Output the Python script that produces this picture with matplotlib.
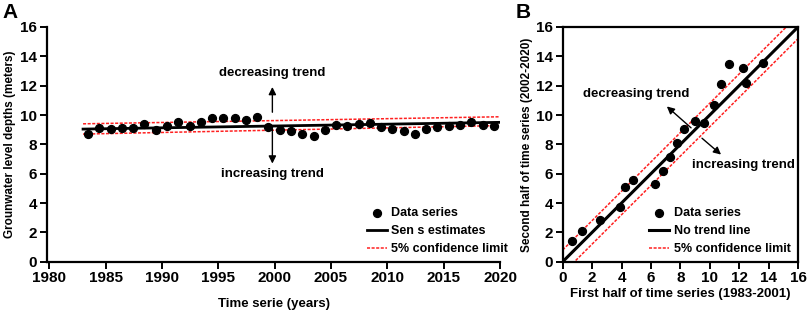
import numpy as np
import matplotlib
matplotlib.use("Agg")
import matplotlib.pyplot as plt

plt.rcParams['font.family'] = ['Liberation Sans', 'DejaVu Sans']
plt.rcParams['font.weight'] = 'bold'

# ---- Panel A data ----
years = np.arange(1983, 2020)
depths = [8.72, 9.09, 9.04, 9.09, 9.09, 9.41, 9.00, 9.27, 9.50, 9.27,
          9.54, 9.77, 9.77, 9.77, 9.64, 9.86, 9.20, 9.00, 8.88, 8.73,
          8.59, 8.95, 9.30, 9.25, 9.39, 9.45, 9.16, 9.08, 8.88, 8.73,
          9.05, 9.16, 9.25, 9.34, 9.53, 9.34, 9.23]
trend_years = [1983, 2020]
sen_est = [9.04, 9.50]
conf_upper = [9.40, 9.88]
conf_lower = [8.70, 9.28]

# ---- Panel B data ----
first_half = [0.63, 1.31, 2.52, 3.88, 4.27, 4.79, 6.31, 6.79, 7.28, 7.78,
              8.28, 8.99, 9.60, 10.30, 10.78, 11.28, 12.27, 12.46, 13.59]
second_half = [1.44, 2.12, 2.85, 3.72, 5.08, 5.56, 5.27, 6.20, 7.13, 8.07,
               9.02, 9.62, 9.43, 10.71, 12.10, 13.49, 13.19, 12.19, 13.56]
no_trend = [0, 16]
conf_offset = 0.8

red = '#ff2020'
W, H = 809, 311
fig = plt.figure(figsize=(W / 100, H / 100), dpi=100)

def frac(x0, y0, x1, y1):
    return [x0 / W, 1 - y1 / H, (x1 - x0) / W, (y1 - y0) / H]

TXT = 9.5
LEG = 9
TICK = 11

# ---------- Panel A ----------
axA = fig.add_axes(frac(47, 27, 500, 261.7))
axA.scatter(years + 0.45, depths, s=32, color='black', zorder=3, label='Data series')
axA.plot(trend_years, sen_est, color='black', lw=2, label='Sen s estimates', zorder=2)
axA.plot(trend_years, conf_upper, color=red, lw=1.1, ls=(0, (2, 1)), zorder=2,
         label='5% confidence limit')
axA.plot(trend_years, conf_lower, color=red, lw=1.1, ls=(0, (2, 1)), zorder=2)
axA.set_xlim(1979.8, 2020)
axA.set_ylim(0, 16)
axA.set_xticks(np.arange(1980, 2021, 5))
axA.set_yticks(np.arange(0, 17, 2))
for s in ['top', 'right']:
    axA.spines[s].set_visible(False)
for s in ['left', 'bottom']:
    axA.spines[s].set_linewidth(1.6)
axA.tick_params(width=1.4, length=5, labelsize=TICK, pad=2)
axA.set_xlabel('Time serie (years)', fontsize=TXT, fontweight='bold', labelpad=9)
axA.set_ylabel('Grounwater level depths (meters)', fontsize=8.5, fontweight='bold', labelpad=3)
axA.annotate('', xy=(1999.8, 12.1), xytext=(1999.8, 10.0),
             arrowprops=dict(arrowstyle='-|>', color='black', lw=1, mutation_scale=11))
axA.annotate('', xy=(1999.8, 6.5), xytext=(1999.8, 9.2),
             arrowprops=dict(arrowstyle='-|>', color='black', lw=1, mutation_scale=11))
axA.text(1999.8, 12.83, 'decreasing trend', ha='center', va='center', fontsize=TXT, fontweight='bold')
axA.text(1999.8, 6.0, 'increasing trend', ha='center', va='center', fontsize=TXT, fontweight='bold')
axA.legend(loc='lower right', bbox_to_anchor=(1.035, -0.005), frameon=False,
           handlelength=1.6, handletextpad=0.35, labelspacing=0.5, borderaxespad=0.2,
           prop={'weight': 'bold', 'size': LEG})
fig.text(10 / W, 1 - 13 / H, 'A', fontsize=15, fontweight='bold', ha='center', va='center')

# ---------- Panel B ----------
axB = fig.add_axes(frac(562.7, 27, 798, 261.7))
axB.scatter(first_half, second_half, s=32, color='black', zorder=3, label='Data series')
axB.plot(no_trend, no_trend, color='black', lw=2.2, label='No trend line', zorder=2)
nt = np.array(no_trend, dtype=float)
axB.plot(nt, nt + conf_offset, color=red, lw=1.1, ls=(0, (2, 1)), zorder=2,
         label='5% confidence limit')
axB.plot(nt, nt - conf_offset, color=red, lw=1.1, ls=(0, (2, 1)), zorder=2)
axB.set_xlim(0, 16)
axB.set_ylim(0, 16)
axB.set_xticks(np.arange(0, 17, 2))
axB.set_yticks(np.arange(0, 17, 2))
for s in axB.spines.values():
    s.set_linewidth(1.6)
axB.tick_params(width=1.4, length=5, labelsize=TICK, pad=2)
axB.set_xlabel('First half of time series (1983-2001)', fontsize=TXT, fontweight='bold', labelpad=2)
axB.set_ylabel('Second half of time series (2002-2020)', fontsize=8.5, fontweight='bold', labelpad=2)
axB.annotate('', xy=(6.94, 10.71), xytext=(8.87, 9.0),
             arrowprops=dict(arrowstyle='-|>', color='black', lw=1, mutation_scale=11))
axB.annotate('', xy=(10.91, 7.18), xytext=(9.33, 8.54),
             arrowprops=dict(arrowstyle='-|>', color='black', lw=1, mutation_scale=11))
axB.text(5.0, 11.44, 'decreasing trend', ha='center', va='center', fontsize=TXT, fontweight='bold')
axB.text(12.32, 6.56, 'increasing trend', ha='center', va='center', fontsize=TXT, fontweight='bold')
axB.legend(loc='lower right', bbox_to_anchor=(1.0, -0.005), frameon=False,
           handlelength=1.6, handletextpad=0.35, labelspacing=0.5, borderaxespad=0.2,
           prop={'weight': 'bold', 'size': LEG})
fig.text(523 / W, 1 - 12 / H, 'B', fontsize=15, fontweight='bold', ha='center', va='center')

fig.savefig('out.png', dpi=100)
